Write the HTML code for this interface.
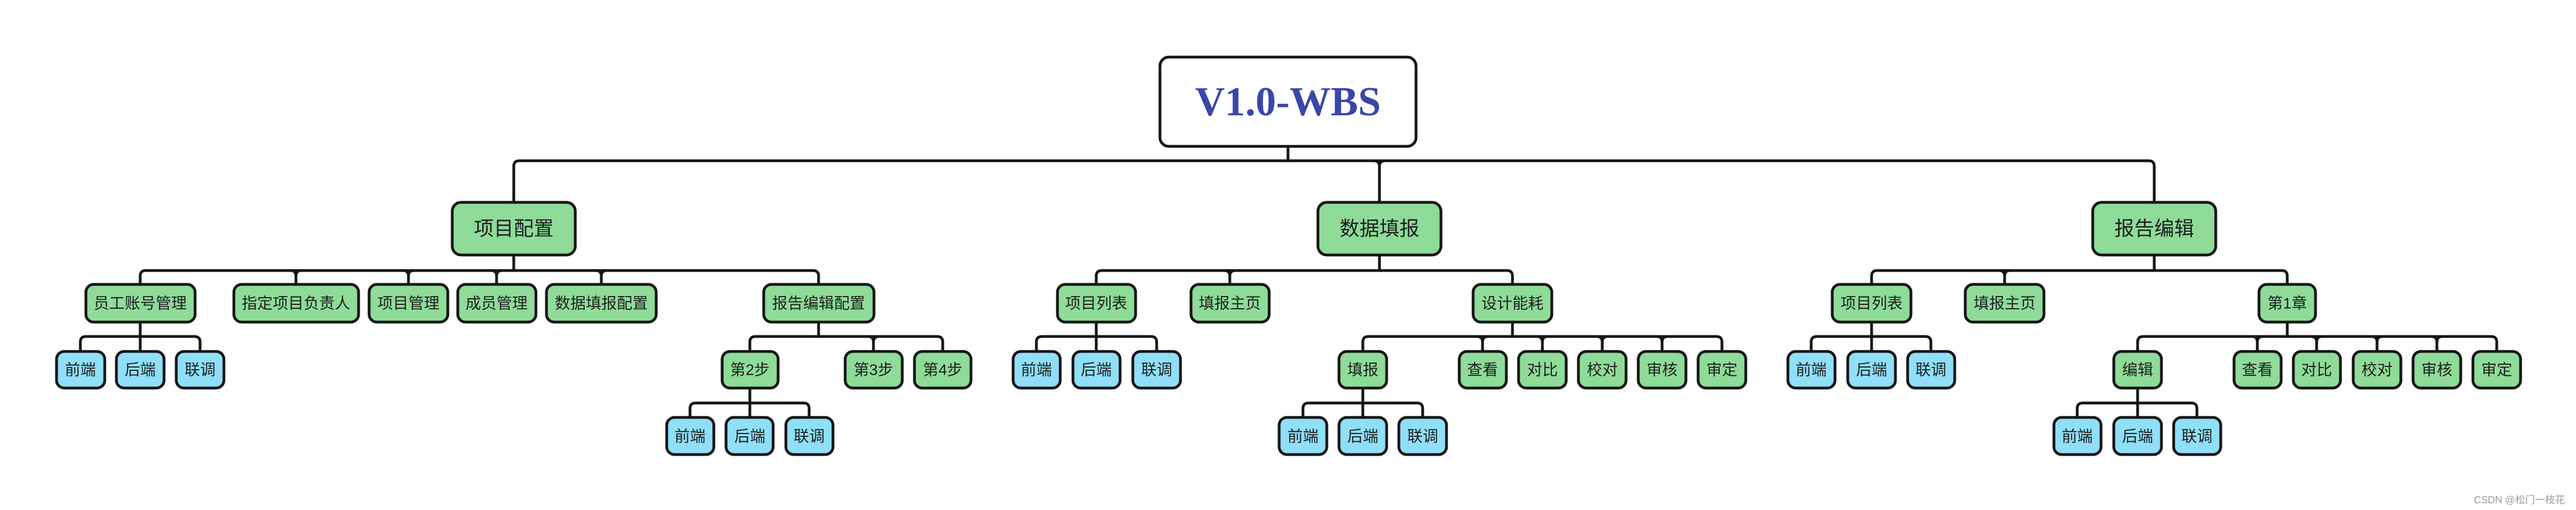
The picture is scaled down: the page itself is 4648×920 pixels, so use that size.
<!DOCTYPE html>
<html><head><meta charset="utf-8"><style>
html,body{margin:0;padding:0;background:#fff;}
svg{display:block;}
text{font-family:"Liberation Sans","Noto Sans CJK SC",sans-serif;fill:#1e1e1e;text-anchor:middle;dominant-baseline:central;}
.g{fill:#8edc98;stroke:#151515;stroke-width:5;}
.b{fill:#8fdff8;stroke:#151515;stroke-width:5;}
.l{fill:none;stroke:#151515;stroke-width:5;}
.t1{font-size:36px;}
.t2{font-size:28px;}
.t3{font-size:28px;}
</style></head><body>
<svg width="4648" height="920" viewBox="0 0 4648 920" xmlns="http://www.w3.org/2000/svg">
<!-- connectors -->
<path class="l" d="M2324 264V290 M937 290H3877 M927 365V300Q927 290 937 290 M2479 290Q2489 290 2489 300V365 M2499 290Q2489 290 2489 300 M3877 290Q3887 290 3887 300V365"/>
<path class="l" d="M927 460V488 M263 488H1467 M253 513V498Q253 488 263 488 M1467 488Q1477 488 1477 498V513
M524 488Q534 488 534 498V513 M544 488Q534 488 534 498
M727 488Q737 488 737 498V513 M747 488Q737 488 737 498
M886 488Q896 488 896 498V513 M906 488Q896 488 896 498
M1075 488Q1085 488 1085 498V513 M1095 488Q1085 488 1085 498"/>
<path class="l" d="M2489 460V488 M1988 488H2719 M1978 513V498Q1978 488 1988 488 M2209 488Q2219 488 2219 498V513 M2229 488Q2219 488 2219 498 M2719 488Q2729 488 2729 498V513"/>
<path class="l" d="M3887 460V488 M3387 488H4117 M3377 513V498Q3377 488 3387 488 M3607 488Q3617 488 3617 498V513 M3627 488Q3617 488 3617 498 M4117 488Q4127 488 4127 498V513"/>
<!-- level 3 -->
<path class="l" d="M253 581V634 M155 607H351 M145 634V617Q145 607 155 607 M351 607Q361 607 361 617V634"/>
<path class="l" d="M1477 581V607 M1363 607H1691 M1353 634V617Q1353 607 1363 607 M1566 607Q1576 607 1576 617V634 M1586 607Q1576 607 1576 617 M1691 607Q1701 607 1701 617V634"/>
<path class="l" d="M1978 581V634 M1880 607H2077 M1870 634V617Q1870 607 1880 607 M2077 607Q2087 607 2087 617V634"/>
<path class="l" d="M2729 581V607 M2469 607H3097 M2459 634V617Q2459 607 2469 607 M3097 607Q3107 607 3107 617V634
M2665 607Q2675 607 2675 617V634 M2685 607Q2675 607 2675 617
M2773 607Q2783 607 2783 617V634 M2793 607Q2783 607 2783 617
M2881 607Q2891 607 2891 617V634 M2901 607Q2891 607 2891 617
M2989 607Q2999 607 2999 617V634 M3009 607Q2999 607 2999 617"/>
<path class="l" d="M3377 581V634 M3278 607H3474 M3268 634V617Q3268 607 3278 607 M3474 607Q3484 607 3484 617V634"/>
<path class="l" d="M4127 581V607 M3867 607H4495 M3857 634V617Q3857 607 3867 607 M4495 607Q4505 607 4505 617V634
M4063 607Q4073 607 4073 617V634 M4083 607Q4073 607 4073 617
M4170 607Q4180 607 4180 617V634 M4190 607Q4180 607 4180 617
M4279 607Q4289 607 4289 617V634 M4299 607Q4289 607 4289 617
M4387 607Q4397 607 4397 617V634 M4407 607Q4397 607 4397 617"/>
<!-- level 4 -->
<path class="l" d="M1353 700V753 M1255 727H1450 M1245 753V737Q1245 727 1255 727 M1450 727Q1460 727 1460 737V753"/>
<path class="l" d="M2459 700V753 M2361 727H2557 M2351 753V737Q2351 727 2361 727 M2557 727Q2567 727 2567 737V753"/>
<path class="l" d="M3857 700V753 M3758 727H3954 M3748 753V737Q3748 727 3758 727 M3954 727Q3964 727 3964 737V753"/>

<!-- root -->
<rect x="2093" y="103" width="462" height="161" rx="16" fill="#fff" stroke="#151515" stroke-width="5"/>
<text x="2324" y="184" style="font-family:'Liberation Serif',serif;font-weight:bold;font-size:74px;fill:#3a47a8;">V1.0-WBS</text>

<!-- level 1 -->
<rect class="g" x="816" y="365" width="222" height="95" rx="16"/><text class="t1" x="927" y="412">项目配置</text>
<rect class="g" x="2378" y="365" width="222" height="95" rx="16"/><text class="t1" x="2489" y="412">数据填报</text>
<rect class="g" x="3776" y="365" width="222" height="95" rx="16"/><text class="t1" x="3887" y="412">报告编辑</text>

<!-- level 2 -->
<rect class="g" x="155" y="513" width="197" height="68" rx="14"/><text class="t2" x="253" y="547">员工账号管理</text>
<rect class="g" x="422" y="513" width="225" height="68" rx="14"/><text class="t2" x="534" y="547">指定项目负责人</text>
<rect class="g" x="666" y="513" width="142" height="68" rx="14"/><text class="t2" x="737" y="547">项目管理</text>
<rect class="g" x="826" y="513" width="141" height="68" rx="14"/><text class="t2" x="896" y="547">成员管理</text>
<rect class="g" x="986" y="513" width="198" height="68" rx="14"/><text class="t2" x="1085" y="547">数据填报配置</text>
<rect class="g" x="1378" y="513" width="199" height="68" rx="14"/><text class="t2" x="1477" y="547">报告编辑配置</text>
<rect class="g" x="1908" y="513" width="141" height="68" rx="14"/><text class="t2" x="1978" y="547">项目列表</text>
<rect class="g" x="2149" y="513" width="141" height="68" rx="14"/><text class="t2" x="2219" y="547">填报主页</text>
<rect class="g" x="2658" y="513" width="142" height="68" rx="14"/><text class="t2" x="2729" y="547">设计能耗</text>
<rect class="g" x="3306" y="513" width="142" height="68" rx="14"/><text class="t2" x="3377" y="547">项目列表</text>
<rect class="g" x="3546" y="513" width="142" height="68" rx="14"/><text class="t2" x="3617" y="547">填报主页</text>
<rect class="g" x="4076" y="513" width="102" height="68" rx="14"/><text class="t2" x="4127" y="547">第1章</text>

<!-- level 3 -->
<rect class="b" x="102" y="634" width="87" height="66" rx="14"/><text class="t3" x="145" y="667">前端</text>
<rect class="b" x="210" y="634" width="86" height="66" rx="14"/><text class="t3" x="253" y="667">后端</text>
<rect class="b" x="318" y="634" width="86" height="66" rx="14"/><text class="t3" x="361" y="667">联调</text>
<rect class="g" x="1303" y="634" width="101" height="66" rx="14"/><text class="t3" x="1353" y="667">第2步</text>
<rect class="g" x="1525" y="634" width="103" height="66" rx="14"/><text class="t3" x="1576" y="667">第3步</text>
<rect class="g" x="1650" y="634" width="102" height="66" rx="14"/><text class="t3" x="1701" y="667">第4步</text>
<rect class="b" x="1828" y="634" width="85" height="66" rx="14"/><text class="t3" x="1870" y="667">前端</text>
<rect class="b" x="1936" y="634" width="85" height="66" rx="14"/><text class="t3" x="1978" y="667">后端</text>
<rect class="b" x="2044" y="634" width="86" height="66" rx="14"/><text class="t3" x="2087" y="667">联调</text>
<rect class="g" x="2416" y="634" width="86" height="66" rx="14"/><text class="t3" x="2459" y="667">填报</text>
<rect class="g" x="2633" y="634" width="85" height="66" rx="14"/><text class="t3" x="2675" y="667">查看</text>
<rect class="g" x="2740" y="634" width="86" height="66" rx="14"/><text class="t3" x="2783" y="667">对比</text>
<rect class="g" x="2848" y="634" width="86" height="66" rx="14"/><text class="t3" x="2891" y="667">校对</text>
<rect class="g" x="2956" y="634" width="86" height="66" rx="14"/><text class="t3" x="2999" y="667">审核</text>
<rect class="g" x="3064" y="634" width="86" height="66" rx="14"/><text class="t3" x="3107" y="667">审定</text>
<rect class="b" x="3226" y="634" width="85" height="66" rx="14"/><text class="t3" x="3268" y="667">前端</text>
<rect class="b" x="3334" y="634" width="86" height="66" rx="14"/><text class="t3" x="3377" y="667">后端</text>
<rect class="b" x="3442" y="634" width="85" height="66" rx="14"/><text class="t3" x="3484" y="667">联调</text>
<rect class="g" x="3814" y="634" width="86" height="66" rx="14"/><text class="t3" x="3857" y="667">编辑</text>
<rect class="g" x="4031" y="634" width="85" height="66" rx="14"/><text class="t3" x="4073" y="667">查看</text>
<rect class="g" x="4138" y="634" width="85" height="66" rx="14"/><text class="t3" x="4180" y="667">对比</text>
<rect class="g" x="4246" y="634" width="86" height="66" rx="14"/><text class="t3" x="4289" y="667">校对</text>
<rect class="g" x="4354" y="634" width="86" height="66" rx="14"/><text class="t3" x="4397" y="667">审核</text>
<rect class="g" x="4462" y="634" width="86" height="66" rx="14"/><text class="t3" x="4505" y="667">审定</text>

<!-- level 4 -->
<rect class="b" x="1203" y="753" width="85" height="67" rx="14"/><text class="t3" x="1245" y="787">前端</text>
<rect class="b" x="1310" y="753" width="85" height="67" rx="14"/><text class="t3" x="1353" y="787">后端</text>
<rect class="b" x="1418" y="753" width="85" height="67" rx="14"/><text class="t3" x="1460" y="787">联调</text>
<rect class="b" x="2308" y="753" width="86" height="67" rx="14"/><text class="t3" x="2351" y="787">前端</text>
<rect class="b" x="2416" y="753" width="86" height="67" rx="14"/><text class="t3" x="2459" y="787">后端</text>
<rect class="b" x="2524" y="753" width="86" height="67" rx="14"/><text class="t3" x="2567" y="787">联调</text>
<rect class="b" x="3706" y="753" width="85" height="67" rx="14"/><text class="t3" x="3748" y="787">前端</text>
<rect class="b" x="3814" y="753" width="86" height="67" rx="14"/><text class="t3" x="3857" y="787">后端</text>
<rect class="b" x="3922" y="753" width="85" height="67" rx="14"/><text class="t3" x="3964" y="787">联调</text>

<text x="4546" y="902" style="font-size:18px;fill:#9a9a9a;">CSDN @松门一枝花</text>
</svg>
</body></html>
